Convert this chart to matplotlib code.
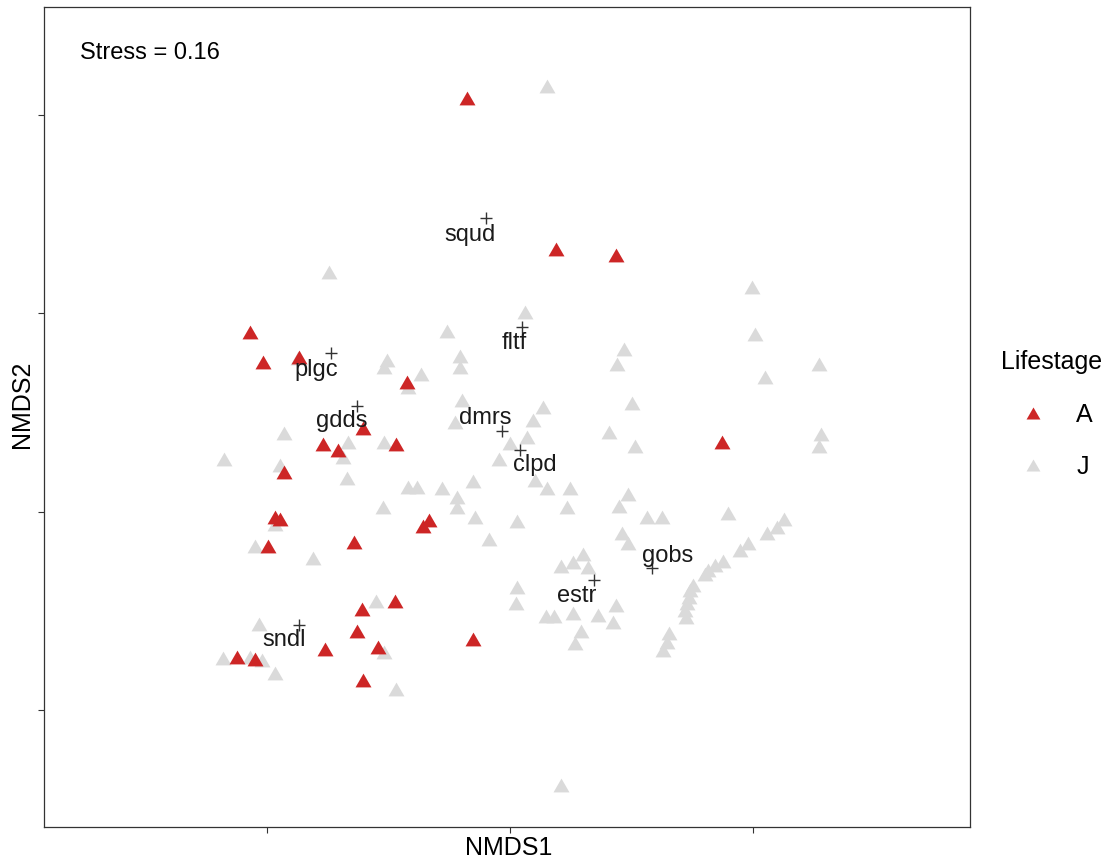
import matplotlib
matplotlib.use('Agg')
import matplotlib.pyplot as plt
from matplotlib.lines import Line2D

# site scores, adults (A)
adult_x = [-0.088, 0.095, 0.218, -0.535, -0.508, -0.434, -0.212, -0.302, -0.385, -0.354,
           -0.235, 0.436, -0.465, -0.484, -0.473, -0.167, -0.179, -0.498, -0.321, -0.237,
           -0.305, -0.315, -0.272, -0.076, -0.381, -0.562, -0.525, -0.302]
adult_y = [1.043, 0.662, 0.647, 0.453, 0.378, 0.390, 0.327, 0.212, 0.171, 0.156,
           0.171, 0.176, 0.101, -0.013, -0.018, -0.020, -0.035, -0.086, -0.076, -0.224,
           -0.244, -0.300, -0.340, -0.320, -0.345, -0.365, -0.370, -0.423]

# site scores, juveniles (J)
juv_x = [0.076, -0.372, -0.130, 0.031, -0.253, -0.259, -0.183, -0.103, -0.103, -0.210,
         -0.099, -0.113, -0.436, -0.465, -0.588, -0.473, -0.333, -0.344, -0.259, -0.335,
         -0.210, -0.191, -0.140, -0.076, -0.109, -0.109, -0.261, -0.072, 0.068, 0.047,
         0.035, 0.000, -0.023, 0.051, 0.076, 0.123, 0.117, 0.014, -0.043, 0.235,
         0.220, 0.498, 0.504, 0.636, 0.525, 0.251, 0.204, 0.257, 0.640, 0.636,
         0.243, 0.224, 0.282, 0.313, 0.230, 0.243, 0.449, 0.564, 0.549, 0.529,
         0.490, 0.473, 0.438, 0.422, 0.407, 0.401, 0.377, 0.370, 0.368, 0.364,
         0.360, 0.362, 0.327, 0.323, 0.315, 0.150, 0.130, 0.105, 0.160, 0.014,
         0.012, 0.074, 0.091, 0.130, 0.181, 0.218, 0.212, 0.146, 0.134, -0.484,
         -0.525, -0.405, -0.276, -0.516, -0.591, -0.535, -0.510, -0.484, -0.259, -0.235,
         0.105]
juv_y = [1.073, 0.605, 0.456, 0.504, 0.383, 0.365, 0.348, 0.393, 0.365, 0.315,
         0.282, 0.227, 0.388, 0.199, 0.134, 0.118, 0.176, 0.139, 0.176, 0.086,
         0.063, 0.063, 0.060, 0.078, 0.038, 0.013, 0.013, -0.013, 0.264, 0.232,
         0.189, 0.174, 0.134, 0.081, 0.060, 0.060, 0.013, -0.023, -0.068, 0.411,
         0.373, 0.567, 0.448, 0.373, 0.340, 0.275, 0.202, 0.166, 0.196, 0.166,
         0.045, 0.015, -0.013, -0.013, -0.053, -0.078, -0.003, -0.018, -0.038, -0.053,
         -0.078, -0.096, -0.123, -0.134, -0.146, -0.156, -0.184, -0.196, -0.214, -0.229,
         -0.247, -0.264, -0.305, -0.327, -0.348, -0.106, -0.126, -0.136, -0.139, -0.189,
         -0.229, -0.262, -0.262, -0.254, -0.259, -0.234, -0.277, -0.300, -0.330, -0.030,
         -0.086, -0.116, -0.224, -0.282, -0.368, -0.365, -0.373, -0.406, -0.353, -0.446,
         -0.688]

# species scores
species = ['squd', 'fltf', 'plgc', 'gdds', 'dmrs', 'clpd', 'gobs', 'estr', 'sndl']
species_x = [-0.049, 0.025, -0.368, -0.315, -0.016, 0.021, 0.292, 0.173, -0.434]
species_y = [0.741, 0.466, 0.400, 0.267, 0.204, 0.156, -0.141, -0.171, -0.285]
# label nudges in pixels (y up), like the repel offsets in the original
label_dx = [-16, -8, -15, -15, -17, 15, 16, -17, -15]
label_dy = [-17, -16, -17, -15, 13, -15, 12, -16, -15]

stress = 0.16

RED = '#CD2626'
GREY = '#DADADA'
DARK = '#333333'
TRI = [(-1, -0.866), (1, -0.866), (0, 0.866)]


def main():
    plt.rcParams['font.family'] = ['Liberation Sans', 'DejaVu Sans']
    fig = plt.figure(figsize=(11.14, 8.59), dpi=100)
    ax = fig.add_axes([0.0395, 0.0373, 0.8312, 0.9546])

    ax.scatter(juv_x, juv_y, marker=TRI, s=132, color=GREY, linewidths=0, zorder=2)
    ax.scatter(adult_x, adult_y, marker=TRI, s=132, color=RED, linewidths=0, zorder=3)
    ax.scatter(species_x, species_y, marker='+', s=75, color=DARK, linewidths=1.0, zorder=4)

    for name, x, y, dx, dy in zip(species, species_x, species_y, label_dx, label_dy):
        ax.annotate(name, (x, y), xytext=(dx, dy), textcoords='offset pixels',
                    ha='center', va='center', fontsize=17, color='#1a1a1a', zorder=5)

    ax.text(0.039, 0.944, 'Stress = %.2f' % stress, transform=ax.transAxes,
            ha='left', va='center', fontsize=17, color='black')

    ax.set_xlim(-0.959, 0.947)
    ax.set_ylim(-0.794, 1.272)
    ax.set_xticks([-0.5, 0, 0.5])
    ax.set_yticks([-0.5, 0, 0.5, 1.0])
    ax.set_xticklabels([])
    ax.set_yticklabels([])
    ax.tick_params(length=4, width=0.8, color=DARK, direction='out')
    for sp in ax.spines.values():
        sp.set_color(DARK)
        sp.set_linewidth(0.9)

    ax.set_xlabel('NMDS1', fontsize=18)
    ax.set_ylabel('NMDS2', fontsize=18)
    ax.xaxis.set_label_coords(0.502, -0.011)
    ax.yaxis.set_label_coords(-0.011, 0.515)

    handles = [
        Line2D([], [], ls='none', marker=TRI, markersize=10, color=RED, mew=0),
        Line2D([], [], ls='none', marker=TRI, markersize=10, color=GREY, mew=0),
    ]
    fig.legend(handles, ['A', 'J'], title='Lifestage', loc='upper left',
               bbox_to_anchor=(0.8985, 0.5925), frameon=False, fontsize=18,
               title_fontsize=18, alignment='left', labelspacing=1.14,
               handletextpad=0.45, handlelength=2.56, borderpad=0, borderaxespad=0)

    fig.savefig('out.png', dpi=100)


if __name__ == '__main__':
    main()
